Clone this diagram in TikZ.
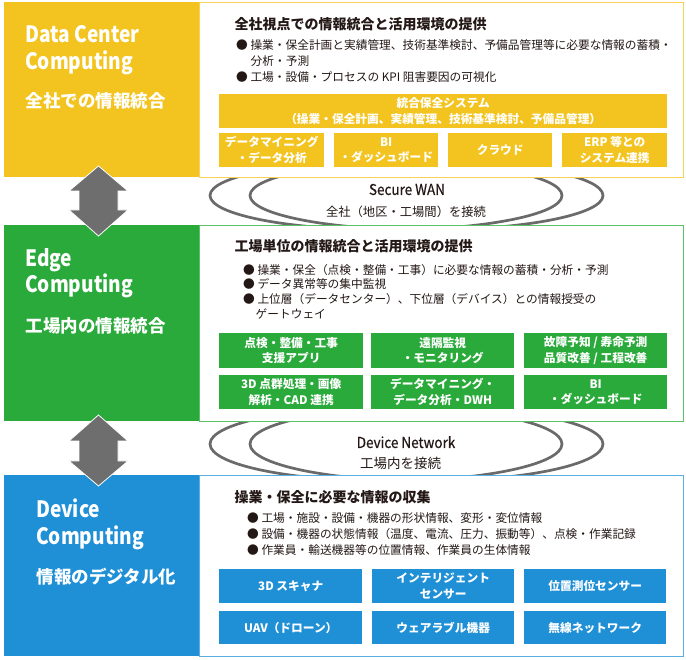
\documentclass[tikz,border=0pt]{standalone}
\usepackage{fontspec}
\setmainfont{Noto Sans CJK JP}
\newfontfamily\enfont{Noto Sans CJK JP}[FakeStretch=0.85]
\newfontfamily\netfont{Noto Sans CJK JP}[FakeStretch=0.9, FakeBold=0.5]
\newcommand\myfs[2]{\fontsize{#1}{#2}\selectfont}
\definecolor{ycol}{HTML}{F3C41F}
\definecolor{gcol}{HTML}{2AAA3A}
\definecolor{bcol}{HTML}{1F8FD6}
\definecolor{ylite}{HTML}{F7D25A}
\definecolor{glite}{HTML}{5CC068}
\definecolor{blite}{HTML}{5AAEE2}
\definecolor{acol}{HTML}{6E6E6E}
\definecolor{ecol}{HTML}{6A6A6A}
\definecolor{tcol}{HTML}{231815}
\tikzset{
  panel/.style={line width=0.9pt, fill=white, anchor=north west, inner sep=0pt, minimum width=484pt},
  side/.style={draw=none, anchor=north west, inner sep=0pt, minimum width=195pt},
  boxn/.style={anchor=north west, inner sep=0pt, text=white, font=\bfseries\myfs{11.7}{15.5}, align=center},
  txt/.style={anchor=base west, inner sep=0pt, text=tcol, font=\myfs{11.7}{14}},
  ttl/.style={anchor=base west, inner sep=0pt, text=tcol, font=\bfseries\myfs{14}{16}},
  bigen/.style={anchor=base west, inner sep=0pt, text=white, font=\enfont\bfseries\myfs{22.5}{26}},
  bigjp/.style={anchor=base west, inner sep=0pt, text=white, font=\bfseries\myfs{17.5}{20}},
  ell/.style={draw=ecol, line width=2.7pt},
  nettitle/.style={anchor=base, inner sep=0pt, text=tcol, font=\netfont\myfs{15}{17}},
  netsub/.style={anchor=base, inner sep=0pt, text=tcol, font=\myfs{12.3}{14}},
  arrowshape/.style={fill=acol, draw=white, line width=0.8pt, line join=miter}
}
\begin{document}
\begin{tikzpicture}[x=1pt,y=-1pt]
\useasboundingbox (0,0) rectangle (686,660);
\fill[white] (0,0) rectangle (686,660);

% network ellipses (behind panels)
\draw[ell] (386,195.5) ellipse [x radius=176pt, y radius=34.5pt];
\draw[ell] (426.5,195.5) ellipse [x radius=176.5pt, y radius=34.5pt];
\draw[ell] (386,444) ellipse [x radius=176pt, y radius=37pt];
\draw[ell] (426.5,444) ellipse [x radius=176.5pt, y radius=37pt];

% ===== Data Center layer =====
\node[panel, draw=ylite, minimum height=175pt] (dcpanel) at (199,2) {};
\node[side, fill=ycol, minimum height=175pt] (dcside) at (4,2) {};
\node[bigen] (dct1) at (25,43) {Data Center};
\node[bigen] (dct2) at (25,70) {Computing};
\node[bigjp] (dct3) at (25.5,108) {全社での情報統合};
\node[ttl] (dctitle) at (234.5,29.8) {全社視点での情報統合と活用環境の提供};
\node[txt] (dcb1) at (236,50) {● 操業・保全計画と実績管理、技術基準検討、予備品管理等に必要な情報の蓄積・};
\node[txt] (dcb1b) at (250.5,66) {分析・予測};
\node[txt] (dcb2) at (236,82) {● 工場・設備・プロセスの KPI 阻害要因の可視化};
\node[boxn, fill=ycol, minimum width=448pt, minimum height=34pt] (dcbig) at (219,94) {統合保全システム\\（操業・保全計画、実績管理、技術基準検討、予備品管理）};
\node[boxn, fill=ycol, minimum width=105pt, minimum height=34pt] (dcs1) at (219,133) {データマイニング\\・データ分析};
\node[boxn, fill=ycol, minimum width=104pt, minimum height=34pt] (dcs2) at (334,133) {BI\\・ダッシュボード};
\node[boxn, fill=ycol, minimum width=104pt, minimum height=34pt] (dcs3) at (448,133) {クラウド};
\node[boxn, fill=ycol, minimum width=105pt, minimum height=34pt] (dcs4) at (562,133) {ERP 等との\\システム連携};

% ===== Edge layer =====
\node[panel, draw=glite, minimum height=196pt] (edpanel) at (199,225) {};
\node[side, fill=gcol, minimum height=196pt] (edside) at (4,225) {};
\node[bigen] (edt1) at (25,267) {Edge};
\node[bigen] (edt2) at (25,293) {Computing};
\node[bigjp] (edt3) at (25.5,332.6) {工場内の情報統合};
\node[ttl] (edtitle) at (234.5,251.8) {工場単位の情報統合と活用環境の提供};
\node[txt] (edb1) at (243,274.5) {● 操業・保全（点検・整備・工事）に必要な情報の蓄積・分析・予測};
\node[txt] (edb2) at (243,288.8) {● データ異常等の集中監視};
\node[txt] (edb3) at (243,303.6) {● 上位層（データセンター）、下位層（デバイス）との情報授受の};
\node[txt] (edb3b) at (255.5,319) {ゲートウェイ};
\node[boxn, fill=gcol, minimum width=144pt, minimum height=35pt] (eda1) at (219,333) {点検・整備・工事\\支援アプリ};
\node[boxn, fill=gcol, minimum width=143pt, minimum height=35pt] (eda2) at (371,333) {遠隔監視\\・モニタリング};
\node[boxn, fill=gcol, minimum width=143pt, minimum height=35pt] (eda3) at (524,333) {故障予知 / 寿命予測\\品質改善 / 工程改善};
\node[boxn, fill=gcol, minimum width=144pt, minimum height=34pt] (edb4) at (219,375) {3D 点群処理・画像\\解析・CAD 連携};
\node[boxn, fill=gcol, minimum width=143pt, minimum height=34pt] (edb5) at (371,375) {データマイニング・\\データ分析・DWH};
\node[boxn, fill=gcol, minimum width=143pt, minimum height=34pt] (edb6) at (524,375) {BI\\・ダッシュボード};

% ===== Device layer =====
\node[panel, draw=blite, minimum height=181pt] (dvpanel) at (199,475) {};
\node[side, fill=bcol, minimum height=181pt] (dvside) at (4,475) {};
\node[bigen] (dvt1) at (36,517) {Device};
\node[bigen] (dvt2) at (36,544) {Computing};
\node[bigjp] (dvt3) at (36.5,583) {情報のデジタル化};
\node[ttl] (dvtitle) at (234.5,502.8) {操業・保全に必要な情報の収集};
\node[txt] (dvb1) at (247,522.5) {● 工場・施設・設備・機器の形状情報、変形・変位情報};
\node[txt] (dvb2) at (247,538.5) {● 設備・機器の状態情報（温度、電流、圧力、振動等）、点検・作業記録};
\node[txt] (dvb3) at (247,554) {● 作業員・輸送機器等の位置情報、作業員の生体情報};
\node[boxn, fill=bcol, minimum width=143pt, minimum height=34pt] (dva1) at (219,569) {3D スキャナ};
\node[boxn, fill=bcol, minimum width=142pt, minimum height=34pt] (dva2) at (372,569) {インテリジェント\\センサー};
\node[boxn, fill=bcol, minimum width=142pt, minimum height=34pt] (dva3) at (524,569) {位置測位センサー};
\node[boxn, fill=bcol, minimum width=143pt, minimum height=33pt] (dva4) at (219,611) {UAV（ドローン）};
\node[boxn, fill=bcol, minimum width=142pt, minimum height=33pt] (dva5) at (372,611) {ウェアラブル機器};
\node[boxn, fill=bcol, minimum width=142pt, minimum height=33pt] (dva6) at (524,611) {無線ネットワーク};

% ===== network labels =====
\node[nettitle] (wan1) at (407,195) {Secure WAN};
\node[netsub] (wan2) at (406,216.6) {全社（地区・工場間）を接続};
\node[nettitle] (dn1) at (406,448) {Device Network};
\node[netsub, font=\myfs{13.5}{15}] (dn2) at (400.5,468) {工場内を接続};

% ===== double arrows =====
\coordinate (arrA) at (98.5,166);
\draw[arrowshape] (arrA) -- ++(29.5,25) -- ++(-10,0) -- ++(0,19) -- ++(10,0) -- ++(-29.5,26)
  -- ++(-29.5,-26) -- ++(10,0) -- ++(0,-19) -- ++(-10,0) -- cycle;
\coordinate (arrB) at (98.5,415);
\draw[arrowshape] (arrB) -- ++(29.5,26) -- ++(-10,0) -- ++(0,20) -- ++(10,0) -- ++(-29.5,25)
  -- ++(-29.5,-25) -- ++(10,0) -- ++(0,-20) -- ++(-10,0) -- cycle;
\end{tikzpicture}
\end{document}
